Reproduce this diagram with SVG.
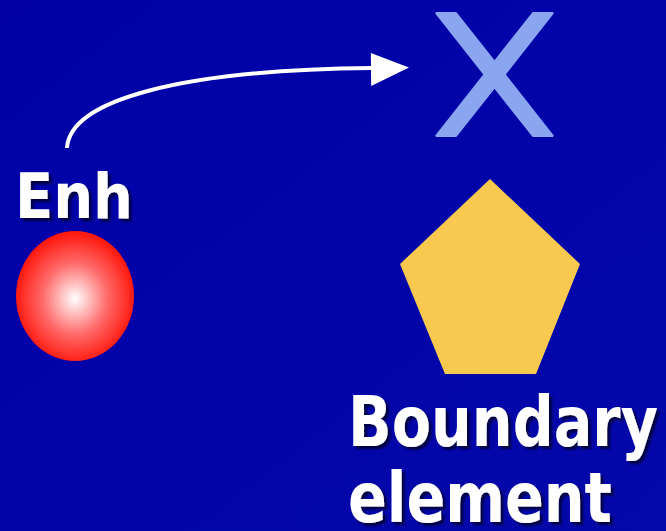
<svg xmlns="http://www.w3.org/2000/svg" width="666" height="531" viewBox="0 0 666 531">
<defs>
<linearGradient id="bg" x1="0" y1="0" x2="1" y2="1">
<stop offset="0" stop-color="#0000a6"/>
<stop offset="1" stop-color="#0408aa"/>
</linearGradient>
<radialGradient id="ball" cx="0.5" cy="0.52" r="0.5">
<stop offset="0" stop-color="#ffffff"/>
<stop offset="0.55" stop-color="#ff6a6a"/>
<stop offset="1" stop-color="#ff1a10"/>
</radialGradient>
<filter id="shadow" x="-10%" y="-10%" width="120%" height="130%">
<feDropShadow dx="3" dy="3" stdDeviation="1" flood-color="#000020" flood-opacity="0.75"/>
</filter>
<marker id="ah" viewBox="0 0 10 10" refX="1" refY="5" markerWidth="10" markerHeight="10" markerUnits="userSpaceOnUse" orient="auto" overflow="visible">
<path d="M0,-15 L38,0 L0,18 Z" fill="#ffffff" transform="translate(0,5)"/>
</marker>
</defs>
<style>
.lbl{font-family:"DejaVu Sans",Verdana,sans-serif;font-weight:bold;fill:#ffffff;filter:url(#shadow)}
</style>
<rect width="666" height="531" fill="url(#bg)"/>
<g id="connectors">
<path d="M67,148 C70,100 180,70 372,68" fill="none" stroke="#ffffff" stroke-width="4" marker-end="url(#ah)"/>
</g>
<g id="enh">
<ellipse cx="75" cy="296" rx="59" ry="65" fill="url(#ball)"/>
<text class="lbl" x="15" y="218" font-size="62" textLength="118" lengthAdjust="spacingAndGlyphs">Enh</text>
</g>
<g id="x-mark" fill="#8aa6f0" stroke="#8aa6f0" stroke-width="2" stroke-linejoin="bevel">
<polygon points="436,13 456,13 553,136 533,136"/>
<polygon points="533,13 553,13 456,136 436,136"/>
</g>
<g id="boundary">
<polygon points="490,179 580,264 536,374 445,374 400,264" fill="#f9c84e"/>
<text class="lbl" x="348" y="446" font-size="70" textLength="310" lengthAdjust="spacingAndGlyphs">Boundary</text>
<text class="lbl" x="348" y="522" font-size="70" textLength="264" lengthAdjust="spacingAndGlyphs">element</text>
</g>
</svg>
